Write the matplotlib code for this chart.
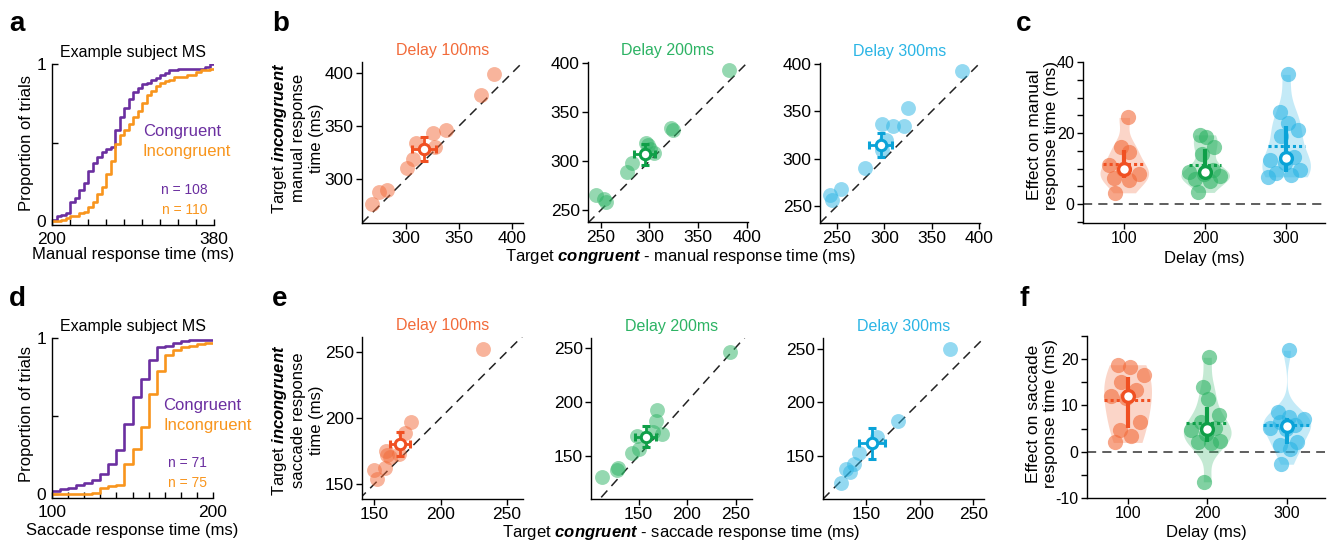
import numpy as np
import matplotlib
matplotlib.use('Agg')
import matplotlib.pyplot as plt

plt.rcParams['font.family'] = ['Liberation Sans', 'DejaVu Sans']
plt.rcParams['mathtext.fontset'] = 'custom'
plt.rcParams['mathtext.rm'] = 'Liberation Sans'
plt.rcParams['mathtext.bf'] = 'Liberation Sans:bold:italic'
plt.rcParams['font.size'] = 12
plt.rcParams['axes.linewidth'] = 1.0

# ---- data: example subject CDFs (5 ms bins) ----
man_edges = np.arange(200, 381, 5)
man_con = [0.01, 0.03, 0.04, 0.05, 0.12, 0.15, 0.20, 0.24, 0.32, 0.37, 0.41, 0.44, 0.46,
           0.47, 0.58, 0.66, 0.72, 0.78, 0.82, 0.85, 0.87, 0.88, 0.90, 0.91, 0.93, 0.94,
           0.96, 0.96, 0.97, 0.97, 0.97, 0.97, 0.97, 0.97, 0.98, 1.00, 1.00]
man_inc = [0.00, 0.00, 0.01, 0.02, 0.03, 0.03, 0.05, 0.06, 0.09, 0.12, 0.17, 0.22, 0.30,
           0.38, 0.49, 0.55, 0.58, 0.62, 0.66, 0.70, 0.75, 0.80, 0.83, 0.86, 0.88, 0.89,
           0.90, 0.92, 0.92, 0.92, 0.93, 0.93, 0.95, 0.96, 0.96, 0.97, 0.97]
sac_edges = np.arange(100, 201, 5)
sac_con = [0.02, 0.03, 0.04, 0.06, 0.07, 0.09, 0.13, 0.19, 0.28, 0.45, 0.62, 0.74, 0.86,
           0.94, 0.95, 0.97, 0.98, 0.99, 0.99, 0.99, 0.99]
sac_inc = [0.00, 0.00, 0.00, 0.00, 0.00, 0.01, 0.04, 0.05, 0.06, 0.19, 0.29, 0.43, 0.64,
           0.79, 0.89, 0.92, 0.94, 0.95, 0.96, 0.97, 0.97]

# ---- data: per-subject mean RTs (congruent, incongruent) ----
b100_con = [383, 371, 338, 326, 310, 327, 307, 301, 282, 275, 268]
b100_inc = [399, 379, 346, 343, 334, 330, 319, 311, 290, 288, 277]
b200_con = [382, 322, 324, 296, 298, 301, 282, 277, 245, 253, 255, 305]
b200_inc = [393, 334, 332, 318, 316, 312, 298, 289, 265, 261, 258, 308]
b300_con = [382, 325, 297, 309, 321, 302, 297, 280, 243, 254, 245]
b300_inc = [393, 353, 337, 334, 334, 320, 309, 290, 262, 268, 256]

e100_con = [232, 178, 173, 159, 160, 162, 169, 158, 150, 152]
e100_inc = [252, 197, 189, 175, 172, 171, 173, 162, 161, 154]
e200_con = [244, 169, 168, 174, 148, 150, 143, 129, 128, 112, 165]
e200_inc = [246, 192, 182, 170, 168, 156, 153, 139, 137, 130, 172]
e300_con = [228, 180, 160, 144, 139, 131, 135, 127]
e300_inc = [250, 183, 168, 153, 143, 138, 135, 125]

# ---- data: effect (incongruent - congruent) per subject ----
delays = [100, 200, 300]
c_eff = [[24.4, 16.2, 14.8, 11.0, 9.8, 8.5, 7.5, 6.8, 3.2],
         [19.5, 18.8, 16.0, 14.0, 9.5, 9.0, 8.5, 8.0, 7.0, 6.5, 3.3],
         [36.5, 25.8, 22.8, 21.0, 19.2, 13.4, 12.3, 11.5, 9.6, 8.7, 8.2, 7.7]]
f_eff = [[18.8, 18.3, 16.6, 15.1, 13.3, 12.1, 11.5, 6.4, 4.6, 3.5, 2.0],
         [20.4, 14.0, 11.3, 7.9, 6.4, 5.1, 4.7, 3.9, 2.4, 2.0, 1.8, -6.5],
         [21.9, 8.6, 7.5, 7.0, 6.4, 5.7, 5.2, 4.9, 2.0, 1.5, 0.6, -2.7]]

purple = '#6B2FA0'
orange = '#F8951D'
light = ['#F26B3A', '#2DB364', '#2BB5E5']
dark = ['#F05022', '#0F9F48', '#0AA3D8']
titles = ['Delay 100ms', 'Delay 200ms', 'Delay 300ms']

W, H = 1331, 543
fig = plt.figure(figsize=(W / 100, H / 100), dpi=100)


def px_axes(l, t, r, b):
    ax = fig.add_axes([l / W, 1 - b / H, (r - l) / W, (b - t) / H])
    ax.spines['top'].set_visible(False)
    ax.spines['right'].set_visible(False)
    return ax


def ftext(x, y, s, **kw):
    fig.text(x / W, 1 - y / H, s, **kw)


def cdf_panel(ax, edges, con, inc, n_con, n_inc, txt_x, ticks):
    ax.step(edges, con, where='post', color=purple, lw=1.9)
    ax.step(edges, inc, where='post', color=orange, lw=1.9)
    ax.set_xlim(edges[0], edges[-1])
    ax.set_ylim(-0.025, 1)
    ax.set_xticks(ticks)
    ax.set_xticklabels([str(ticks[0])] + [''] * (len(ticks) - 2) + [str(ticks[-1])])
    ax.set_yticks([0, 0.5, 1])
    ax.set_yticklabels(['0', '', '1'])
    ax.tick_params(direction='in', length=4, width=1, labelsize=12.5)
    ax.tick_params(axis='x', pad=5)
    ax.tick_params(axis='y', pad=4)
    ax.set_title('Example subject MS', fontsize=11.5, pad=5)
    ax.text(txt_x, 0.57, 'Congruent', color=purple, fontsize=12, va='center')
    ax.text(txt_x, 0.44, 'Incongruent', color=orange, fontsize=12, va='center')
    ax.text(0.96, 0.22, 'n = %d' % n_con, color=purple, fontsize=10, ha='right',
            va='center', transform=ax.transAxes)
    ax.text(0.96, 0.095, 'n = %d' % n_inc, color=orange, fontsize=10, ha='right',
            va='center', transform=ax.transAxes)


def scatter_panel(ax, con, inc, i, xlim, ylim, ticks):
    con = np.array(con, float)
    inc = np.array(inc, float)
    lo = min(xlim[0], ylim[0])
    hi = max(xlim[1], ylim[1])
    ax.plot([lo, hi], [lo, hi], ls=(0, (6, 4)), color='#222222', lw=1.1, zorder=1)
    ax.scatter(con, inc, s=115, color=light[i], alpha=0.5, lw=0, zorder=2)
    n = len(con)
    ax.errorbar(con.mean(), inc.mean(), xerr=con.std(ddof=1) / np.sqrt(n),
                yerr=inc.std(ddof=1) / np.sqrt(n), fmt='o', ms=7.5, mfc='white',
                mec=dark[i], mew=2.2, ecolor=dark[i], elinewidth=2, capsize=3,
                capthick=2, zorder=3)
    ax.set_xlim(xlim)
    ax.set_ylim(ylim)
    ax.set_xticks(ticks)
    ax.set_yticks(ticks)
    ax.tick_params(direction='out', length=4, width=1, pad=2, labelsize=12.5)
    ax.tick_params(axis='x', pad=1.5)
    ax.set_title(titles[i], color=light[i], fontsize=11.5, pad=5)


def violin_panel(ax, groups, ylim, yticks, ylabels):
    ax.axhline(0, ls=(0, (6, 4)), color='#333333', lw=1.1, zorder=0)
    for i, (pos, vals) in enumerate(zip(delays, groups)):
        vals = np.array(vals, float)
        n = len(vals)
        grid = np.linspace(vals.min(), vals.max(), 200)
        sig = np.median(np.abs(vals - np.median(vals))) / 0.6745
        bw = sig * (4 / (3 * n)) ** 0.2
        dens = np.exp(-0.5 * ((grid[:, None] - vals[None, :]) / bw) ** 2).sum(1)
        hw = 30 * dens / dens.max()
        ax.fill_betweenx(grid, pos - hw, pos + hw, color=light[i], alpha=0.28, lw=0, zorder=1)
        order = np.argsort(vals)
        frac = np.empty(n)
        frac[order] = (np.arange(n) * 0.618034) % 1 - 0.5
        offs = frac * 2 * np.interp(vals, grid, hw) * 0.85
        ax.scatter(pos + offs, vals, s=120, color=light[i], alpha=0.6, lw=0, zorder=2)
        q1, med, q3 = np.percentile(vals, [25, 50, 75], method='hazen')
        mean = vals.mean()
        mw = np.interp(mean, grid, hw)
        ax.plot([pos - mw, pos + mw], [mean, mean], ls=(0, (1, 1)), color=dark[i], lw=2.2, zorder=3)
        ax.plot([pos, pos], [q1, q3], color=dark[i], lw=3, solid_capstyle='butt', zorder=3)
        ax.plot(pos, med, 'o', ms=8.5, mfc='white', mec=dark[i], mew=2.4, zorder=4)
    ax.set_xlim(49, 348)
    ax.set_ylim(ylim)
    ax.set_xticks(delays)
    ax.set_yticks(yticks)
    ax.set_yticklabels(ylabels)
    ax.tick_params(direction='out', length=4, width=1, pad=2, labelsize=11.5)
    ax.set_xlabel('Delay (ms)', labelpad=3)


# ---- panel a / d ----
ax_a = px_axes(52, 64, 214, 225)
cdf_panel(ax_a, man_edges, man_con, man_inc, 108, 110, 301, np.arange(200, 381, 20))
ax_a.set_xlabel('Manual response time (ms)', labelpad=0)
ax_d = px_axes(52, 338, 213, 498)
cdf_panel(ax_d, sac_edges, sac_con, sac_inc, 71, 75, 169, np.arange(100, 201, 10))
ax_d.set_xlabel('Saccade response time (ms)', labelpad=2.5)
ftext(26, 143, 'Proportion of trials', rotation=90, ha='center', va='center')
ftext(26, 414, 'Proportion of trials', rotation=90, ha='center', va='center')

# ---- panel b ----
b_boxes = [(362, 62, 523, 223), (588, 62, 748, 222), (820, 63, 980, 223)]
b_lims = [((259, 410), (259, 410)), ((237, 401), (238, 401)), ((232, 401), (232, 401))]
b_data = [(b100_con, b100_inc), (b200_con, b200_inc), (b300_con, b300_inc)]
for i in range(3):
    ax = px_axes(*b_boxes[i])
    scatter_panel(ax, b_data[i][0], b_data[i][1], i, b_lims[i][0], b_lims[i][1],
                  [250, 300, 350, 400] if i else [300, 350, 400])

# ---- panel e ----
e_boxes = [(362, 337, 523, 499), (591, 338, 752, 499), (823, 338, 984, 499)]
e_lims = [((141, 262), (139, 261)), ((101, 267), (110, 259)), ((110, 260), (110, 260))]
e_data = [(e100_con, e100_inc), (e200_con, e200_inc), (e300_con, e300_inc)]
for i in range(3):
    ax = px_axes(*e_boxes[i])
    scatter_panel(ax, e_data[i][0], e_data[i][1], i, e_lims[i][0], e_lims[i][1],
                  [150, 200, 250])

# ---- panel c / f ----
ax_c = px_axes(1083, 62, 1325, 223)
violin_panel(ax_c, c_eff, (-5.3, 40), np.arange(-5, 41, 5),
             ['0' if v == 0 else str(v) if v % 20 == 0 else '' for v in range(-5, 41, 5)])
ax_f = px_axes(1087, 336, 1325, 498)
violin_panel(ax_f, f_eff, (-10, 25), np.arange(-10, 26, 5),
             [str(v) if v % 10 == 0 else '' for v in range(-10, 26, 5)])

# ---- shared labels ----
ftext(297, 138, 'Target $\\mathbf{incongruent}$\nmanual response\ntime (ms)',
      rotation=90, ha='center', va='center', multialignment='center', linespacing=1.2)
ftext(297, 420, 'Target $\\mathbf{incongruent}$\nsaccade response\ntime (ms)',
      rotation=90, ha='center', va='center', multialignment='center', linespacing=1.2)
ftext(681, 257, 'Target $\\mathbf{congruent}$ - manual response time (ms)',
      ha='center', va='center')
ftext(681, 533, 'Target $\\mathbf{congruent}$ - saccade response time (ms)',
      ha='center', va='center')
ftext(1043, 135, 'Effect on manual\nresponse time (ms)', rotation=90, ha='center',
      va='center', multialignment='center', linespacing=1.2, fontsize=12.5)
ftext(1042, 414, 'Effect on saccade\nresponse time (ms)', rotation=90, ha='center',
      va='center', multialignment='center', linespacing=1.2, fontsize=12.5)

for lab, x, y in [('a', 9, 31), ('b', 272, 31), ('c', 1016, 31),
                  ('d', 9, 306), ('e', 272, 306), ('f', 1019, 306)]:
    ftext(x, y, lab, fontsize=20, fontweight='bold', va='baseline')

fig.savefig('out.png', dpi=100)
